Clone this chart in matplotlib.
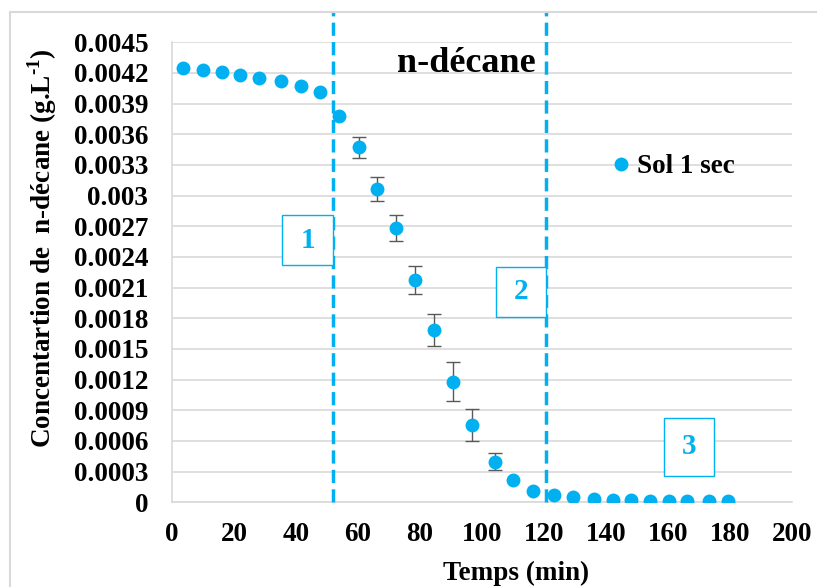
import numpy as np
import matplotlib
matplotlib.use("Agg")
import matplotlib.pyplot as plt
from matplotlib.patches import Rectangle
from matplotlib.lines import Line2D

# values
time_min = [3.5, 9.9, 16.1, 21.9, 28.0, 35.1, 41.5, 47.7, 53.8, 60.2,
            66.0, 72.3, 78.4, 84.5, 90.5, 96.7, 104.1, 110.1, 116.4, 123.2,
            129.5, 136.0, 142.2, 148.0, 154.2, 160.2, 166.2, 173.3, 179.4]
conc = [0.004246, 0.004229, 0.004213, 0.00418, 0.004151, 0.004124, 0.004076,
        0.004011, 0.003782, 0.003473, 0.003065, 0.00268, 0.002175, 0.001686,
        0.00118, 0.000756, 0.000399, 0.000218, 0.000113, 0.0000714,
        0.0000489, 0.0000323, 0.0000225, 0.0000225, 0.0000127, 0.0000127,
        0.0000127, 0.0000127, 0.0000127]
conc_err = [0, 0, 0, 0, 0, 0, 0, 0, 0, 0.0001,
            0.00012, 0.000127, 0.00014, 0.00016, 0.00019, 0.00016, 0.00008, 0, 0, 0,
            0, 0, 0, 0, 0, 0, 0, 0, 0]
phase_limits = [51.9, 120.6]
phase_labels = ["1", "2", "3"]
yticks = [0, 0.0003, 0.0006, 0.0009, 0.0012, 0.0015, 0.0018, 0.0021, 0.0024,
          0.0027, 0.003, 0.0033, 0.0036, 0.0039, 0.0042, 0.0045]
ytick_labels = ["0", "0.0003", "0.0006", "0.0009", "0.0012", "0.0015", "0.0018",
                "0.0021", "0.0024", "0.0027", "0.003", "0.0033", "0.0036",
                "0.0039", "0.0042", "0.0045"]
xticks = [0, 20, 40, 60, 80, 100, 120, 140, 160, 180, 200]

BLUE = "#00B0F0"
GRID = "#D9D9D9"

plt.rcParams["font.family"] = ["Liberation Serif", "DejaVu Serif"]
plt.rcParams["font.weight"] = "bold"
plt.rcParams["mathtext.fontset"] = "custom"
plt.rcParams["mathtext.rm"] = "Liberation Serif:bold"
plt.rcParams["mathtext.bf"] = "Liberation Serif:bold"

fig = plt.figure(figsize=(8.17, 5.87), dpi=100)
ax = fig.add_axes([0.2105, 0.1443, 0.7589, 0.7836])

t = np.array(time_min)
c = np.array(conc)
e = np.array(conc_err)
has_err = e > 0

ax.errorbar(t[has_err], c[has_err], yerr=e[has_err], fmt="none",
            ecolor="#595959", elinewidth=1, capsize=5, capthick=1, zorder=3)
ax.plot(t, c, "o", color=BLUE, markersize=10, markeredgewidth=0,
        label="Sol 1 sec", zorder=4)

for xl in phase_limits:
    ax.plot([xl, xl], [0, 0.0048], color=BLUE, lw=2.5, dashes=(3.8, 1.8),
            clip_on=False, zorder=5)

# numbered phase boxes
boxes = [(35.5, 0.002321, 16.4, 0.000489),
         (104.5, 0.001813, 16.1, 0.000489),
         (158.7, 0.000257, 16.1, 0.000568)]
for (bx, by, bw, bh), lab in zip(boxes, phase_labels):
    ax.add_patch(Rectangle((bx, by), bw, bh, facecolor="white",
                           edgecolor=BLUE, lw=1, zorder=6))
    ax.text(bx + bw / 2, by + bh / 2, lab, color=BLUE, fontsize=21,
            fontweight="bold", ha="center", va="center", zorder=7)

ax.text(94.8, 0.004212, "n-décane", fontsize=26, fontweight="bold",
        ha="center", va="baseline", zorder=7)

ax.set_xlim(0, 200)
ax.set_ylim(0, 0.0045)
ax.set_xticks(xticks)
ax.set_yticks(yticks)
ax.set_yticklabels(ytick_labels)
ax.tick_params(axis="both", length=0, labelsize=19.5)
ax.tick_params(axis="y", pad=17)
ax.tick_params(axis="x", pad=14)
ax.yaxis.grid(True, color=GRID, lw=1.2)
ax.set_axisbelow(True)
for s in ["top", "right"]:
    ax.spines[s].set_visible(False)
ax.spines["left"].set_color(GRID)
ax.spines["bottom"].set_color(GRID)
ax.spines["left"].set_linewidth(1.2)
ax.spines["bottom"].set_linewidth(1.2)

ax.set_xlabel("Temps (min)", fontsize=19.5, fontweight="bold", va="center")
ax.xaxis.set_label_coords(0.555, -0.1537)
ax.set_ylabel(r"Concentartion de  n-décane (g.L$^{\text{-1}}$)", fontsize=19.5,
              fontweight="bold", va="center")
ax.yaxis.set_label_coords(-0.2097, 0.553)

ax.legend(loc="center left", bbox_to_anchor=(0.711, 0.729), frameon=False,
          fontsize=19.5, handlelength=0.6, handletextpad=0.3,
          borderpad=0, borderaxespad=0)

# light grey chart-area border, cut off at right and bottom
bx0 = 10 / 817
by0 = 1 - 12 / 587
fig.add_artist(Line2D([bx0, bx0], [0, by0], color=GRID, lw=1.5))
fig.add_artist(Line2D([bx0, 1], [by0, by0], color=GRID, lw=1.5))

fig.savefig("out.png", dpi=100)
